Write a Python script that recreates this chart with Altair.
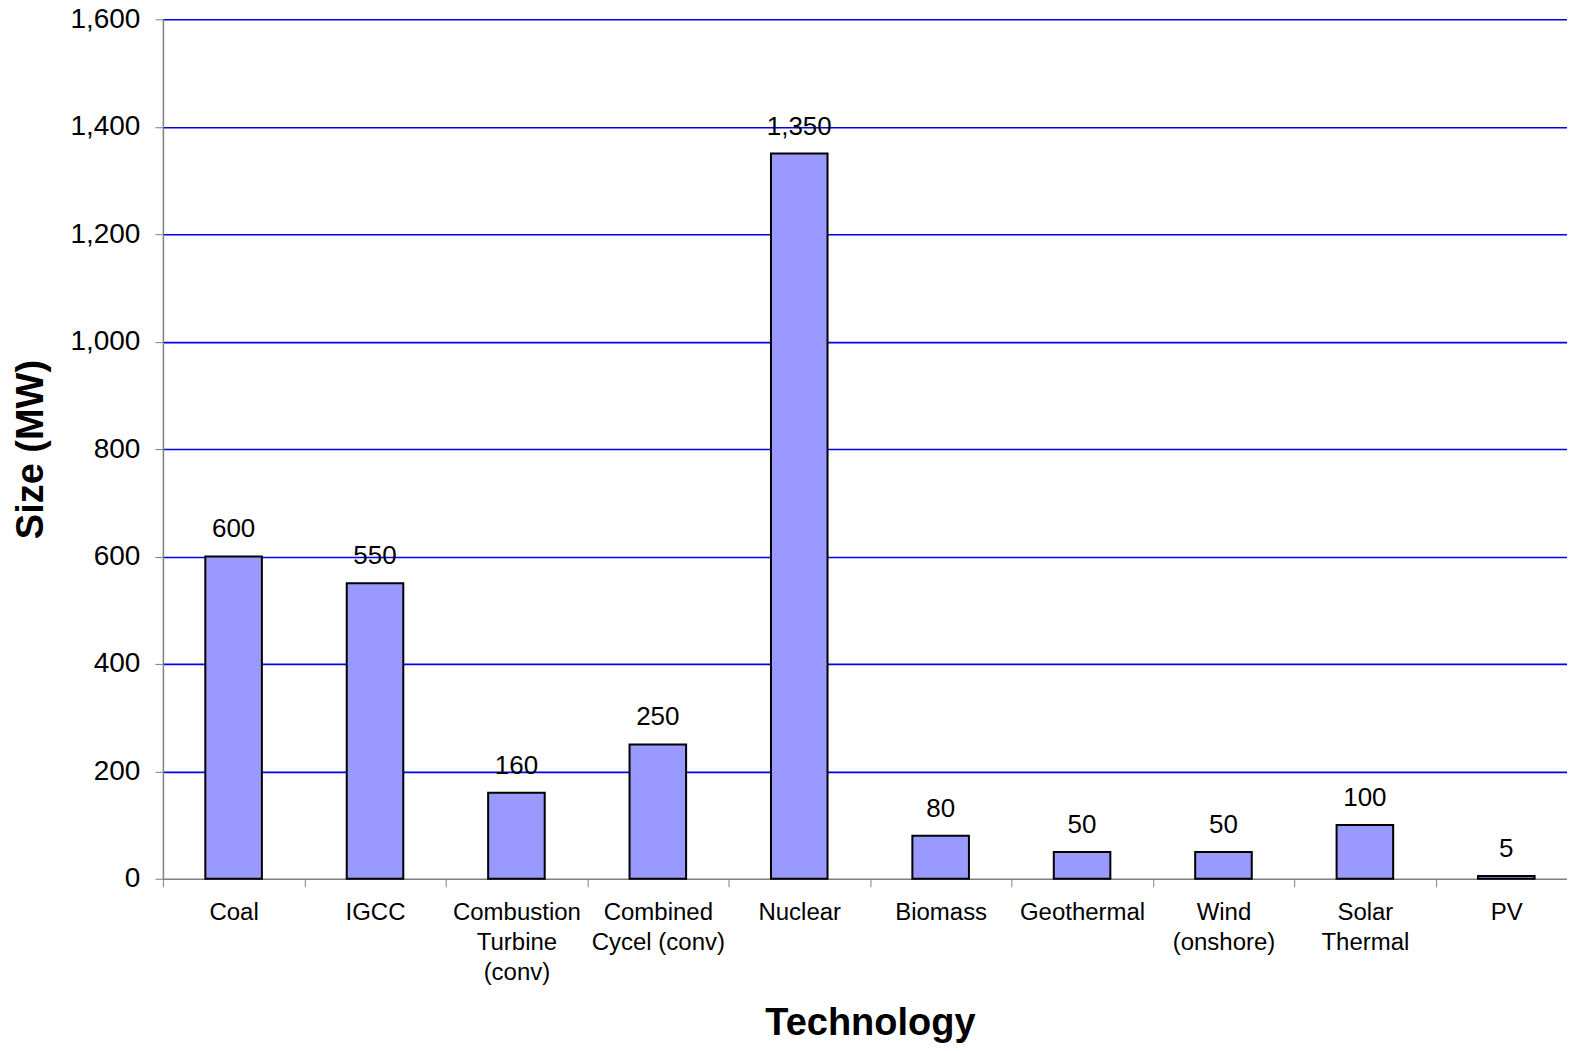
import altair as alt
import pandas as pd

categories = ["Coal", "IGCC", "Combustion|Turbine|(conv)", "Combined|Cycel (conv)", "Nuclear",
              "Biomass", "Geothermal", "Wind|(onshore)", "Solar|Thermal", "PV"]
sizes = [600, 550, 160, 250, 1350, 80, 50, 50, 100, 5]
y_ticks = [0, 200, 400, 600, 800, 1000, 1200, 1400, 1600]

df = pd.DataFrame({"tech": categories, "size": sizes})

FONT = "Liberation Sans"

x_enc = alt.X("tech:N", sort=None,
              scale=alt.Scale(paddingInner=0, paddingOuter=0, range=[0, 1415]),
              axis=alt.Axis(title="Technology", labelAngle=0,
                            labelExpr="split(datum.label, '|')",
                            labelFontSize=24, labelLineHeight=30, labelPadding=14,
                            labelColor="black", labelFont=FONT,
                            tickBand="extent", tickSize=8, tickColor="#808080",
                            domainColor="#808080", domainWidth=1.5,
                            titleFontSize=38, titleFont=FONT, titleFontWeight="bold",
                            titleColor="black", titleY=156, titleBaseline="alphabetic",
                            grid=False))
y_enc = alt.Y("size:Q",
              scale=alt.Scale(domain=[0, 1600], nice=False),
              axis=alt.Axis(title="Size (MW)", values=y_ticks, format=",d",
                            labelFontSize=28, labelColor="black", labelFont=FONT, labelPadding=15,
                            tickSize=8, tickColor="#808080",
                            domainColor="#808080", domainWidth=1.5,
                            grid=True, gridColor="#0000E6", gridWidth=1.6,
                            gridOpacity=alt.ExprRef("datum.value == 0 ? 0 : 1"),
                            titleFontSize=38, titleFont=FONT, titleFontWeight="bold",
                            titleColor="black", titleX=-131, titleY=430,
                            titleBaseline="middle", titleAngle=-90))

bars = alt.Chart(df).mark_bar(fill="#9999FF", stroke="black", strokeWidth=2,
                              width=alt.RelativeBandSize(0.4)).encode(
    x=x_enc, y=y_enc)

labels = alt.Chart(df).mark_text(baseline="bottom", dy=-14, fontSize=26, font=FONT,
                                 color="black").encode(
    x=alt.X("tech:N", sort=None), y=alt.Y("size:Q"),
    text=alt.Text("size:Q", format=",d"))

chart = alt.layer(bars, labels).properties(
    width=1405, height=860,
    padding={"left": 155, "top": 11, "right": 0, "bottom": 164},
    autosize=alt.AutoSizeParams(type="none"),
).configure_view(stroke=None)

chart.save("out.html", embed_options={"renderer": "svg", "actions": False})
